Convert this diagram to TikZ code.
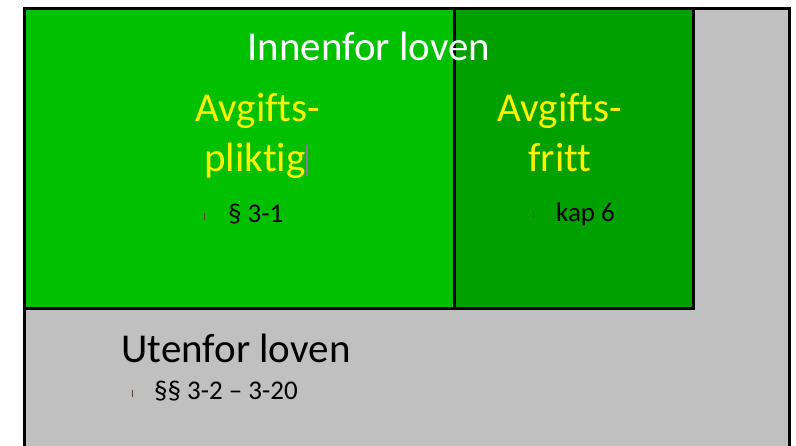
\documentclass[tikz,border=0pt]{standalone}
\usepackage{fontspec}
\setmainfont[Ligatures={NoCommon}]{Carlito}
\definecolor{lawgreen}{HTML}{00C000}
\definecolor{freegreen}{HTML}{00A000}
\definecolor{outgray}{HTML}{C0C0C0}
\definecolor{tickbrown}{HTML}{6B3A22}
\definecolor{caretgray}{HTML}{8A7A9A}
\tikzset{
  area/.style={draw=black, line width=3pt},
  bigtext/.style={font=\fontsize{41}{44}\selectfont, inner sep=0pt, anchor=base},
  reftext/.style={font=\fontsize{27}{30}\selectfont, inner sep=0pt, anchor=base west, text=black},
  tickmark/.style={draw=tickbrown, line width=1pt}
}
\begin{document}
\begin{tikzpicture}[x=1pt, y=-1pt]
  \clip (0,0) rectangle (796,446);
  \fill[white] (0,0) rectangle (796,446);
  % outside the law
  \draw[area, fill=outgray] (24.5,9) rectangle (789.5,470);
  % inside the law: taxable and exempt
  \draw[area, fill=lawgreen] (24.5,9) rectangle (454.5,308.5);
  \draw[area, fill=freegreen] (454.5,9) rectangle (693.5,308.5);

  \node[bigtext, text=white] (inside) at (369,61) {Innenfor loven};
  \node[bigtext, text=yellow] (tax1) at (258,122) {Avgifts-};
  \node[bigtext, text=yellow] (tax2) at (255,172) {pliktig};
  \node[bigtext, text=yellow] (free1) at (560,122) {Avgifts-};
  \node[bigtext, text=yellow] (free2) at (560,172) {fritt};
  \node[bigtext, text=black] (outside) at (236,363) {Utenfor loven};

  \node[reftext] (ref1) at (228,223) {§ 3-1};
  \node[reftext] (ref2) at (556,222) {kap 6};
  \node[reftext] (ref3) at (154,400) {§§ 3-2 – 3-20};

  % list bullets
  \draw[tickmark] (204.5,213) -- (204.5,220);
  \draw[tickmark] (533.5,210) -- (533.5,217);
  \draw[tickmark] (132.5,390) -- (132.5,397);
  % text caret
  \draw[draw=caretgray, line width=1.5pt] (307,145) -- (307,176);
\end{tikzpicture}
\end{document}
